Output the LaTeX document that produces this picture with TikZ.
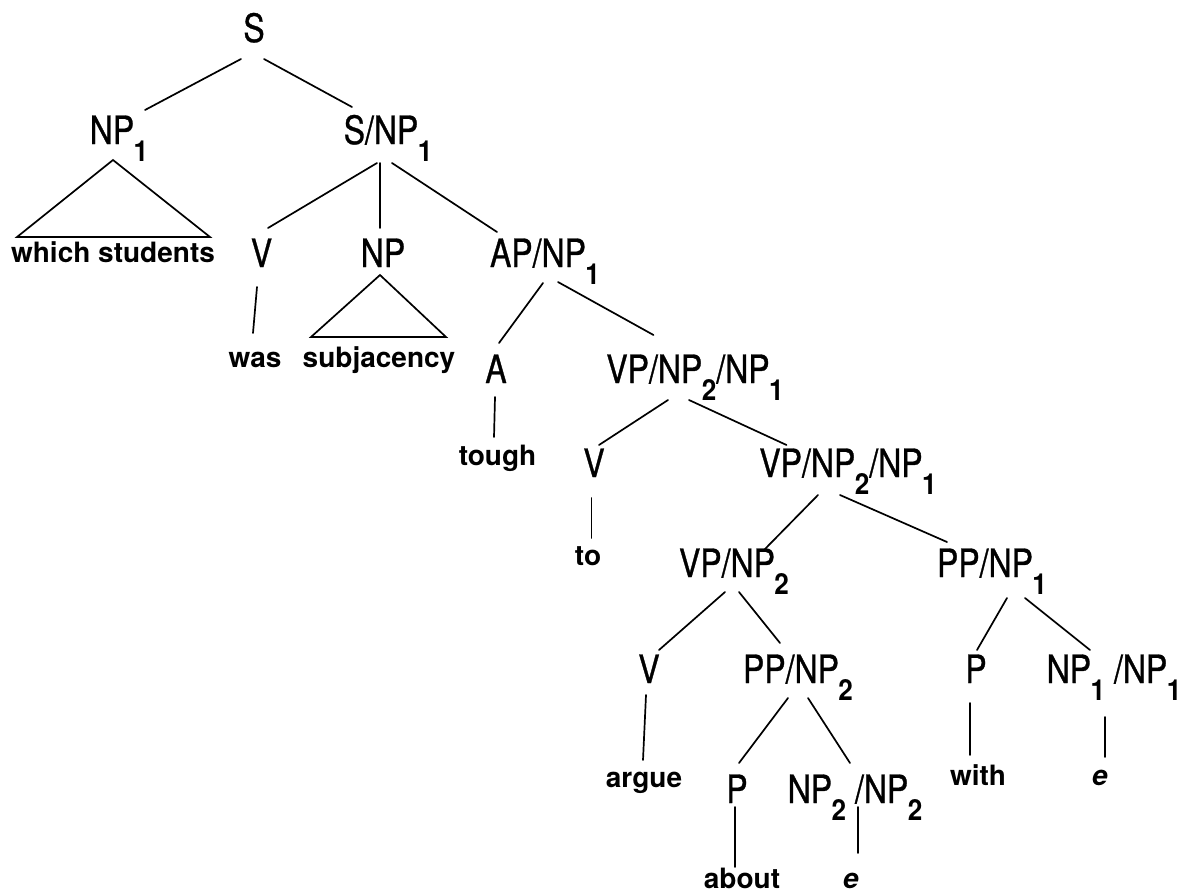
\documentclass[tikz,border=0pt]{standalone}
\usepackage{fontspec}
\setmainfont{TeX Gyre Heros}
\newfontfamily\labfont[FakeStretch=0.82,FakeBold=0.8]{TeX Gyre Heros}
\newfontfamily\subfam[FakeStretch=0.9]{TeX Gyre Heros}
\newcommand\lsub[1]{\kern-0.5pt\raisebox{-17pt}{\subfam\bfseries\fontsize{29}{29}\selectfont #1}}
\begin{document}
\begin{tikzpicture}[x=1pt,y=-1pt,
  lab/.style={font=\labfont\fontsize{39}{39}\selectfont, anchor=base, inner sep=0pt},
  leaf/.style={font=\fontsize{28}{28}\selectfont\bfseries, anchor=base, inner sep=0pt},
  eleaf/.style={font=\fontsize{28}{28}\selectfont\bfseries\itshape, anchor=base, inner sep=0pt},
  edge/.style={line width=1.7pt, line cap=round},
  tri/.style={line width=1.7pt, line join=miter}]
\useasboundingbox (0,0) rectangle (1182,895);
% nodes
\node[lab] (S) at (254,42) {S};
\node[lab] (np1) at (119,144) {NP\lsub{1}};
\node[lab] (snp) at (388,144) {S/NP\lsub{1}};
\node[leaf] (ws) at (113,262) {which students};
\node[lab] (v1) at (261.5,267) {V};
\node[lab] (np) at (383,267) {NP};
\node[lab] (ap) at (545,267) {AP/NP\lsub{1}};
\node[leaf] (was) at (255,367) {was};
\node[leaf] (subj) at (379,367) {subjacency};
\node[lab] (a) at (496,383) {A};
\node[lab] (vpa) at (695,383) {VP/NP\lsub{2}/NP\lsub{1}};
\node[leaf] (tough) at (497.5,465) {tough};
\node[lab] (v2) at (594,477) {V};
\node[lab] (vpb) at (848,477) {VP/NP\lsub{2}/NP\lsub{1}};
\node[leaf] (to) at (588,565) {to};
\node[lab] (vpc) at (734,577) {VP/NP\lsub{2}};
\node[lab] (ppa) at (992,577) {PP/NP\lsub{1}};
\node[lab] (v3) at (649,683) {V};
\node[lab] (ppb) at (798,683) {PP/NP\lsub{2}};
\node[lab] (p1) at (976,683) {P};
\node[lab] (npnp1) at (1114,683) {NP\lsub{1} /NP\lsub{1}};
\node[leaf] (argue) at (644,787) {argue};
\node[leaf] (with) at (978,785) {with};
\node[eleaf] (e1) at (1100,785) {e};
\node[lab] (p2) at (737,803) {P};
\node[lab] (npnp2) at (855,803) {NP\lsub{2} /NP\lsub{2}};
\node[leaf] (about) at (742,888) {about};
\node[eleaf] (e2) at (851,888) {e};
% connectors
\draw[edge] ([shift={(-13,17)}]S.base) -- ([shift={(26,-34)}]np1.base);
\draw[edge] ([shift={(10,17)}]S.base) -- ([shift={(-36,-37)}]snp.base);
\draw[tri] ([shift={(-6,16)}]np1.base) -- ([shift={(-96,-25)}]ws.base) -- ([shift={(97,-25)}]ws.base) -- cycle;
\draw[edge] ([shift={(-11,19)}]snp.base) -- ([shift={(6.5,-39)}]v1.base);
\draw[edge] ([shift={(-8,19)}]snp.base) -- ([shift={(-3,-39)}]np.base);
\draw[edge] ([shift={(4,19)}]snp.base) -- ([shift={(-48,-35)}]ap.base);
\draw[edge] ([shift={(-4.5,20)}]v1.base) -- ([shift={(-2,-34)}]was.base);
\draw[tri] ([shift={(-3,8)}]np.base) -- ([shift={(-68,-30)}]subj.base) -- ([shift={(67,-30)}]subj.base) -- cycle;
\draw[edge] ([shift={(-2,16)}]ap.base) -- ([shift={(3,-40)}]a.base);
\draw[edge] ([shift={(13,15)}]ap.base) -- ([shift={(-41.5,-48)}]vpa.base);
\draw[edge] ([shift={(-1,14)}]a.base) -- ([shift={(-3.5,-28)}]tough.base);
\draw[edge] ([shift={(-27,17)}]vpa.base) -- ([shift={(5,-32)}]v2.base);
\draw[edge] ([shift={(-6,17)}]vpa.base) -- ([shift={(-61.5,-32)}]vpb.base);
\draw[edge] ([shift={(-2.5,21)}]v2.base) -- ([shift={(3.5,-27)}]to.base);
\draw[edge] ([shift={(-30,18)}]vpb.base) -- ([shift={(30,-27)}]vpc.base);
\draw[edge] ([shift={(-8,18)}]vpb.base) -- ([shift={(-45,-35)}]ppa.base);
\draw[edge] ([shift={(-9,15)}]vpc.base) -- ([shift={(10,-33)}]v3.base);
\draw[edge] ([shift={(5,15)}]vpc.base) -- ([shift={(-18,-40)}]ppb.base);
\draw[edge] ([shift={(15,21)}]ppa.base) -- ([shift={(1,-33)}]p1.base);
\draw[edge] ([shift={(33,21)}]ppa.base) -- ([shift={(-24,-33)}]npnp1.base);
\draw[edge] ([shift={(-3,12)}]v3.base) -- ([shift={(-1,-27)}]argue.base);
\draw[edge] ([shift={(-10,15)}]ppb.base) -- ([shift={(2,-40)}]p2.base);
\draw[edge] ([shift={(10,15)}]ppb.base) -- ([shift={(-5,-40)}]npnp2.base);
\draw[edge] ([shift={(-6,20)}]p1.base) -- ([shift={(-8,-30)}]with.base);
\draw[edge] ([shift={(-9,34)}]npnp1.base) -- ([shift={(5,-28)}]e1.base);
\draw[edge] ([shift={(-2,4)}]p2.base) -- ([shift={(-7,-21)}]about.base);
\draw[edge] ([shift={(3,4)}]npnp2.base) -- ([shift={(7,-35)}]e2.base);
\end{tikzpicture}
\end{document}
